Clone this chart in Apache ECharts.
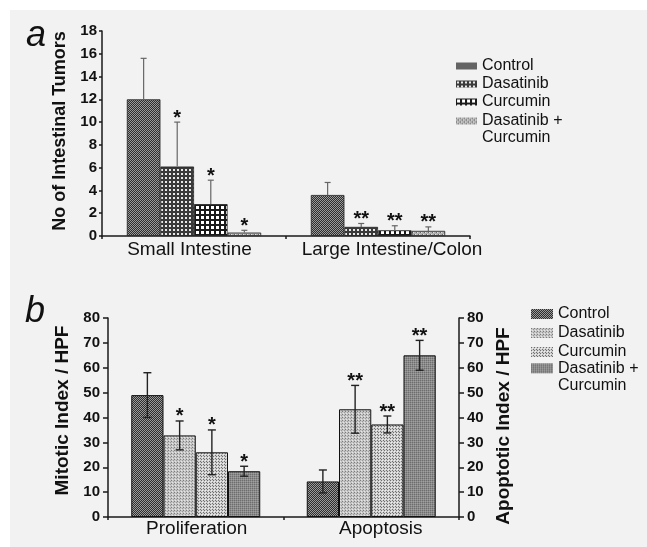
<!DOCTYPE html>
<html>
<head>
<meta charset="utf-8">
<script src="https://cdn.jsdelivr.net/npm/echarts@6/dist/echarts.min.js"></script>
<style>
html,body{margin:0;padding:0;background:#fff;}
#main{width:647px;height:547px;}
</style>
</head>
<body>
<div id="main"></div>
<script>
// ---------- data ----------
const groups = ['Control', 'Dasatinib', 'Curcumin', 'Dasatinib + Curcumin'];

// panel a
const tumorCats = ['Small Intestine', 'Large Intestine/Colon'];
const tumorTicks = [0, 2, 4, 6, 8, 10, 12, 14, 16, 18];
const tumorControl = [12.0, 3.6];
const tumorDasatinib = [6.1, 0.8];
const tumorCurcumin = [2.8, 0.5];
const tumorCombo = [0.3, 0.45];
const tumorControlErr = [3.6, 1.1];
const tumorDasatinibErr = [3.9, 0.3];
const tumorCurcuminErr = [2.1, 0.4];
const tumorComboErr = [0.2, 0.35];
const tumorSig = [['', ''], ['*', '**'], ['*', '**'], ['*', '**']];

// panel b
const indexCats = ['Proliferation', 'Apoptosis'];
const indexTicks = [0, 10, 20, 30, 40, 50, 60, 70, 80];
const indexControl = [49.0, 14.3];
const indexDasatinib = [32.8, 43.3];
const indexCurcumin = [26.0, 37.2];
const indexCombo = [18.4, 65.0];
const indexControlErr = [9.0, 4.6];
const indexDasatinibErr = [5.8, 9.6];
const indexCurcuminErr = [9.0, 3.4];
const indexComboErr = [2.0, 6.0];
const indexSig = [['', ''], ['*', '**'], ['*', '**'], ['*', '**']];

const tumorMeans = [tumorControl, tumorDasatinib, tumorCurcumin, tumorCombo];
const tumorErrs = [tumorControlErr, tumorDasatinibErr, tumorCurcuminErr, tumorComboErr];
const indexMeans = [indexControl, indexDasatinib, indexCurcumin, indexCombo];
const indexErrs = [indexControlErr, indexDasatinibErr, indexCurcuminErr, indexComboErr];

// ---------- styles ----------
const FONT = "'Liberation Sans', Arial, Helvetica, sans-serif";
function makePattern(w, h, bg, cells) {
  const c = document.createElement('canvas');
  c.width = w; c.height = h;
  const ctx = c.getContext('2d');
  ctx.fillStyle = bg; ctx.fillRect(0, 0, w, h);
  cells.forEach(function (p) { ctx.fillStyle = p[0]; ctx.fillRect(p[1], p[2], p[3], p[4]); });
  return { image: c, repeat: 'repeat' };
}
const patCtrl = makePattern(2, 2, '#2e2e2e', [['#9a9a9a', 0, 0, 1, 1], ['#9a9a9a', 1, 1, 1, 1]]);
const patDasA = makePattern(4, 4, '#3a3a3a', [['#e8e8e8', 1, 1, 2, 2]]);
const patCurA = makePattern(5, 5, '#1a1a1a', [['#ffffff', 1, 1, 3, 3]]);
const patComboA = makePattern(4, 4, '#b0b0b0', [['#6a6a6a', 0, 0, 1, 1], ['#6a6a6a', 2, 2, 1, 1], ['#e0e0e0', 1, 0, 1, 1], ['#e0e0e0', 3, 2, 1, 1]]);
const patDasB = makePattern(3, 3, '#c6c6c6', [['#7c7c7c', 0, 0, 1, 1], ['#9a9a9a', 2, 1, 1, 1], ['#e6e6e6', 1, 2, 1, 1]]);
const patCurB = makePattern(3, 3, '#cfcfcf', [['#6e6e6e', 0, 0, 1, 1], ['#6e6e6e', 2, 2, 1, 1], ['#efefef', 1, 1, 1, 1]]);
const patComboB = makePattern(2, 2, '#8a8a8a', [['#6e6e6e', 0, 0, 1, 1], ['#a0a0a0', 1, 1, 1, 1]]);
const fillsA = [patCtrl, patDasA, patCurA, patComboA];
const fillsB = [patCtrl, patDasB, patCurB, patComboB];

const GAP_A = 0.27, GAP_B = 0.265;

function errRenderer(g, gapRatio, twoSided, sig, capHalf, color, lw) {
  return function (params, api) {
    const i = api.value(0), m = api.value(1), e = api.value(2);
    const base = api.coord([i, m]);
    const catW = api.size([1, 0])[0];
    const bw = catW * (1 - gapRatio) / 4;
    const x = base[0] + (g - 1.5) * bw;
    const yHi = api.coord([i, m + e])[1];
    const yLo = twoSided ? api.coord([i, m - e])[1] : base[1];
    const st = { stroke: color, lineWidth: lw };
    const children = [
      { type: 'line', shape: { x1: x, y1: yLo, x2: x, y2: yHi }, style: st },
      { type: 'line', shape: { x1: x - capHalf, y1: yHi, x2: x + capHalf, y2: yHi }, style: st }
    ];
    if (twoSided) children.push({ type: 'line', shape: { x1: x - capHalf, y1: yLo, x2: x + capHalf, y2: yLo }, style: st });
    const s = sig[g][i];
    if (s) children.push({ type: 'text', style: { text: s, x: x, y: yHi - 4, align: 'center', verticalAlign: 'middle', font: 'bold 20px ' + FONT, fill: '#111' } });
    return { type: 'group', children: children };
  };
}

const series = [];
groups.forEach(function (name, g) {
  series.push({
    name: 'A:' + name, type: 'bar', xAxisIndex: 0, yAxisIndex: 0,
    data: tumorMeans[g], barGap: '0%', barCategoryGap: (GAP_A * 100) + '%',
    itemStyle: { color: fillsA[g], borderColor: '#222', borderWidth: 0.8 }
  });
});
groups.forEach(function (name, g) {
  series.push({
    name: 'A:err' + g, type: 'custom', xAxisIndex: 0, yAxisIndex: 0, z: 5,
    data: tumorCats.map(function (c, i) { return [i, tumorMeans[g][i], tumorErrs[g][i]]; }),
    renderItem: errRenderer(g, GAP_A, false, tumorSig, 3, '#666', 1.2)
  });
});
groups.forEach(function (name, g) {
  series.push({
    name: 'B:' + name, type: 'bar', xAxisIndex: 1, yAxisIndex: 1,
    data: indexMeans[g], barGap: '0%', barCategoryGap: (GAP_B * 100) + '%',
    itemStyle: { color: fillsB[g], borderColor: '#111', borderWidth: 1 }
  });
});
groups.forEach(function (name, g) {
  series.push({
    name: 'B:err' + g, type: 'custom', xAxisIndex: 1, yAxisIndex: 1, z: 5,
    data: indexCats.map(function (c, i) { return [i, indexMeans[g][i], indexErrs[g][i]]; }),
    renderItem: errRenderer(g, GAP_B, true, indexSig, 4, '#222', 1.4)
  });
});

const axisLineStyle = { color: '#1a1a1a', width: 1.5 };
const tickLabel = { color: '#111', fontFamily: FONT, fontWeight: 'bold', fontSize: 15 };
const catFont = { color: '#111', fontFamily: FONT, fontSize: 19 };

const legendText = { color: '#111', fontFamily: FONT, fontSize: 16, lineHeight: 18 };
const legendText2 = { color: '#111', fontFamily: FONT, fontSize: 16, lineHeight: 17 };
const strip = function (n) { return n.slice(2); };
const comboText = function () { return '\nDasatinib +\nCurcumin'; };

const option = {
  animation: false,
  backgroundColor: 'transparent',
  graphic: [{ type: 'rect', z: -100, silent: true, shape: { x: 10, y: 10, width: 637, height: 537 }, style: { fill: '#f2f2f2' } }],
  title: [
    { text: 'a', left: 26, top: 18, padding: 0, textStyle: { fontFamily: FONT, fontStyle: 'italic', fontWeight: 'normal', fontSize: 36, color: '#111' } },
    { text: 'b', left: 25, top: 294, padding: 0, textStyle: { fontFamily: FONT, fontStyle: 'italic', fontWeight: 'normal', fontSize: 36, color: '#111' } }
  ],
  legend: [
    { data: groups.slice(0, 3).map(function (n) { return 'A:' + n; }), orient: 'vertical', left: 456, top: 57, padding: 0, itemGap: 0,
      itemWidth: 21, itemHeight: 7, icon: 'rect', selectedMode: false, formatter: strip, textStyle: legendText, itemStyle: { borderWidth: 0 } },
    { data: ['A:' + groups[3]], orient: 'vertical', left: 456, top: 95.5, padding: 0,
      itemWidth: 21, itemHeight: 7, icon: 'rect', selectedMode: false, formatter: comboText, textStyle: legendText2, itemStyle: { borderWidth: 0 } },
    { data: groups.slice(0, 3).map(function (n) { return 'B:' + n; }), orient: 'vertical', left: 531, top: 305, padding: 0, itemGap: 1,
      itemWidth: 22, itemHeight: 10, icon: 'rect', selectedMode: false, formatter: strip, textStyle: legendText, itemStyle: { borderWidth: 0 } },
    { data: ['B:' + groups[3]], orient: 'vertical', left: 531, top: 342.8, padding: 0,
      itemWidth: 22, itemHeight: 10, icon: 'rect', selectedMode: false, formatter: comboText, textStyle: legendText2, itemStyle: { borderWidth: 0 } }
  ],
  grid: [
    { left: 102, top: 31, width: 368, height: 205 },
    { left: 108, top: 318, width: 351, height: 199 }
  ],
  xAxis: [
    { gridIndex: 0, type: 'category', data: tumorCats,
      axisLine: { lineStyle: axisLineStyle }, axisTick: { show: true, length: 3, lineStyle: axisLineStyle },
      axisLabel: { margin: 4, interval: 0,
        formatter: function (v, i) { return i === 0 ? '{l|' + v + '}' : '{r|' + v + '}'; },
        rich: { l: Object.assign({ padding: [0, 9, 0, 0] }, catFont), r: Object.assign({ padding: [0, 0, 0, 28] }, catFont) } } },
    { gridIndex: 1, type: 'category', data: indexCats,
      axisLine: { lineStyle: axisLineStyle }, axisTick: { show: true, length: 3, lineStyle: axisLineStyle },
      axisLabel: { margin: 2, interval: 0,
        formatter: function (v, i) { return i === 0 ? '{l|' + v + '}' : '{r|' + v + '}'; },
        rich: { l: Object.assign({ padding: [0, 0, 0, 2] }, catFont), r: Object.assign({ padding: [0, 0, 0, 19] }, catFont) } } }
  ],
  yAxis: [
    { gridIndex: 0, type: 'value', min: tumorTicks[0], max: tumorTicks[tumorTicks.length - 1], interval: tumorTicks[1] - tumorTicks[0],
      name: 'No of Intestinal Tumors', nameLocation: 'middle', nameRotate: 90, nameGap: 27,
      nameTextStyle: { color: '#111', fontFamily: FONT, fontWeight: 'bold', fontSize: 18, padding: [0, 0, 0, 5] },
      axisLine: { show: true, lineStyle: axisLineStyle }, axisTick: { show: true, length: 3, lineStyle: axisLineStyle },
      splitLine: { show: false }, axisLabel: Object.assign({ margin: 5 }, tickLabel) },
    { gridIndex: 1, type: 'value', position: 'left', min: indexTicks[0], max: indexTicks[indexTicks.length - 1], interval: indexTicks[1] - indexTicks[0],
      name: 'Mitotic Index / HPF', nameLocation: 'middle', nameRotate: 90, nameGap: 33.5,
      nameTextStyle: { color: '#111', fontFamily: FONT, fontWeight: 'bold', fontSize: 19, padding: [0, 0, 0, 14] },
      axisLine: { show: true, lineStyle: axisLineStyle }, axisTick: { show: true, length: 5, lineStyle: axisLineStyle },
      splitLine: { show: false }, axisLabel: Object.assign({ margin: 8 }, tickLabel) },
    { gridIndex: 1, type: 'value', position: 'right', min: indexTicks[0], max: indexTicks[indexTicks.length - 1], interval: indexTicks[1] - indexTicks[0],
      name: 'Apoptotic Index / HPF', nameLocation: 'middle', nameRotate: 90, nameGap: 34.5,
      nameTextStyle: { color: '#111', fontFamily: FONT, fontWeight: 'bold', fontSize: 19, padding: [0, 17, 0, 0] },
      axisLine: { show: true, lineStyle: axisLineStyle }, axisTick: { show: true, length: 5, lineStyle: axisLineStyle },
      splitLine: { show: false }, axisLabel: Object.assign({ margin: 8 }, tickLabel) }
  ],
  series: series
};

const chart = echarts.init(document.getElementById('main'), null, { renderer: 'canvas' });
chart.setOption(option);
</script>
</body>
</html>
